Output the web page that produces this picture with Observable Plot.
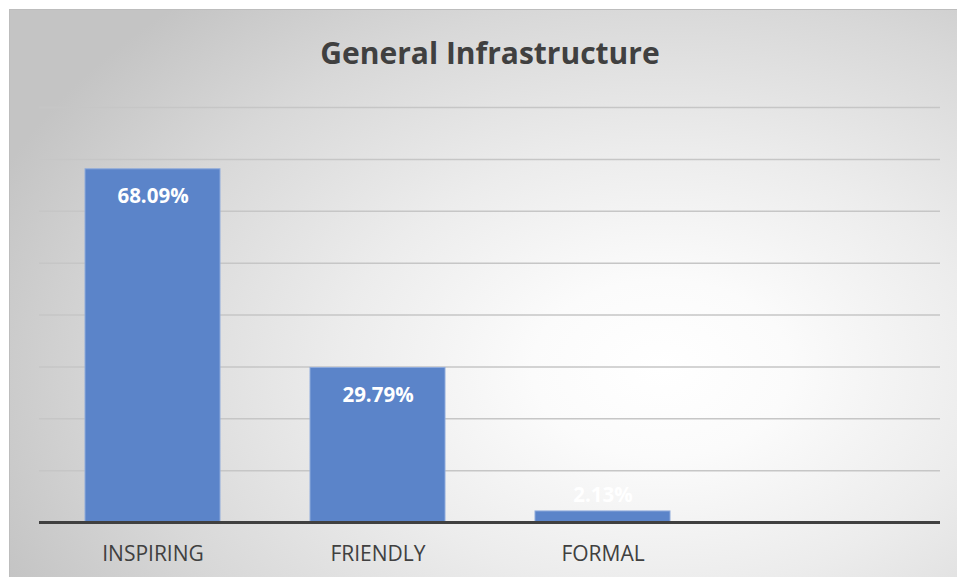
<!DOCTYPE html>
<html>
<head>
<meta charset="utf-8">
<script src="https://cdn.jsdelivr.net/npm/d3@7"></script>
<script src="https://cdn.jsdelivr.net/npm/@observablehq/plot@0.6"></script>
<style>
  html, body { margin: 0; padding: 0; background: #ffffff; }
  body { width: 957px; height: 577px; position: relative; overflow: hidden; }
  #frame {
    position: absolute; left: 9px; top: 9px; width: 960px; height: 580px;
    border: 1px solid #bdbdbd; box-sizing: border-box;
    background: radial-gradient(ellipse 75% 85% at 68% 62%, #ffffff 0%, #fbfbfb 18%, #ececec 45%, #d8d8d8 75%, #c4c4c4 100%);
  }
  #title {
    position: absolute; left: 0; width: 980px; top: 33px; text-align: center;
    font-family: "Open Sans", sans-serif; font-weight: 700; font-size: 30px; line-height: 40px; color: #404040;
  }
  #chart { position: absolute; left: 0; top: 99px; }
</style>
</head>
<body>
<div id="frame"></div>
<div id="title">General Infrastructure</div>
<div id="chart"></div>
<script>
const categories = ["INSPIRING", "FRIENDLY", "FORMAL", " "];
const values = [68.09, 29.79, 2.13];
const labels = ["68.09%", "29.79%", "2.13%"];
const gridTicks = [10, 20, 30, 40, 50, 60, 70, 80];

const data = values.map((v, i) => ({cat: categories[i], value: v, label: labels[i]}));

const chart = Plot.plot({
  width: 957,
  height: 478,
  marginLeft: 39,
  marginRight: 17,
  marginTop: 8,
  marginBottom: 55,
  style: {background: "transparent", fontFamily: "Open Sans, sans-serif"},
  x: {domain: categories, paddingInner: 0.4, paddingOuter: 0.2, label: null},
  y: {domain: [0, 80], axis: null},
  marks: [
    Plot.ruleY(gridTicks, {stroke: "#c6c6c6", strokeWidth: 1.5}),
    Plot.barY(data, {x: "cat", y: "value", fill: "#5b84c9", stroke: "#8fabdc", strokeWidth: 1}),
    Plot.ruleY([0], {stroke: "#404040", strokeWidth: 3}),
    Plot.text(data.filter(d => d.value > 10), {x: "cat", y: "value", text: "label", dy: 27, fill: "white", fontWeight: "bold", fontSize: 20.5}),
    Plot.text(data.filter(d => d.value <= 10), {x: "cat", y: "value", text: "label", dy: -16, fill: "white", fontWeight: "bold", fontSize: 20.5}),
    Plot.axisX({tickSize: 0, tickPadding: 24, fontSize: 21, fill: "#404040", label: null})
  ]
});
document.getElementById("chart").appendChild(chart);
</script>
</body>
</html>
